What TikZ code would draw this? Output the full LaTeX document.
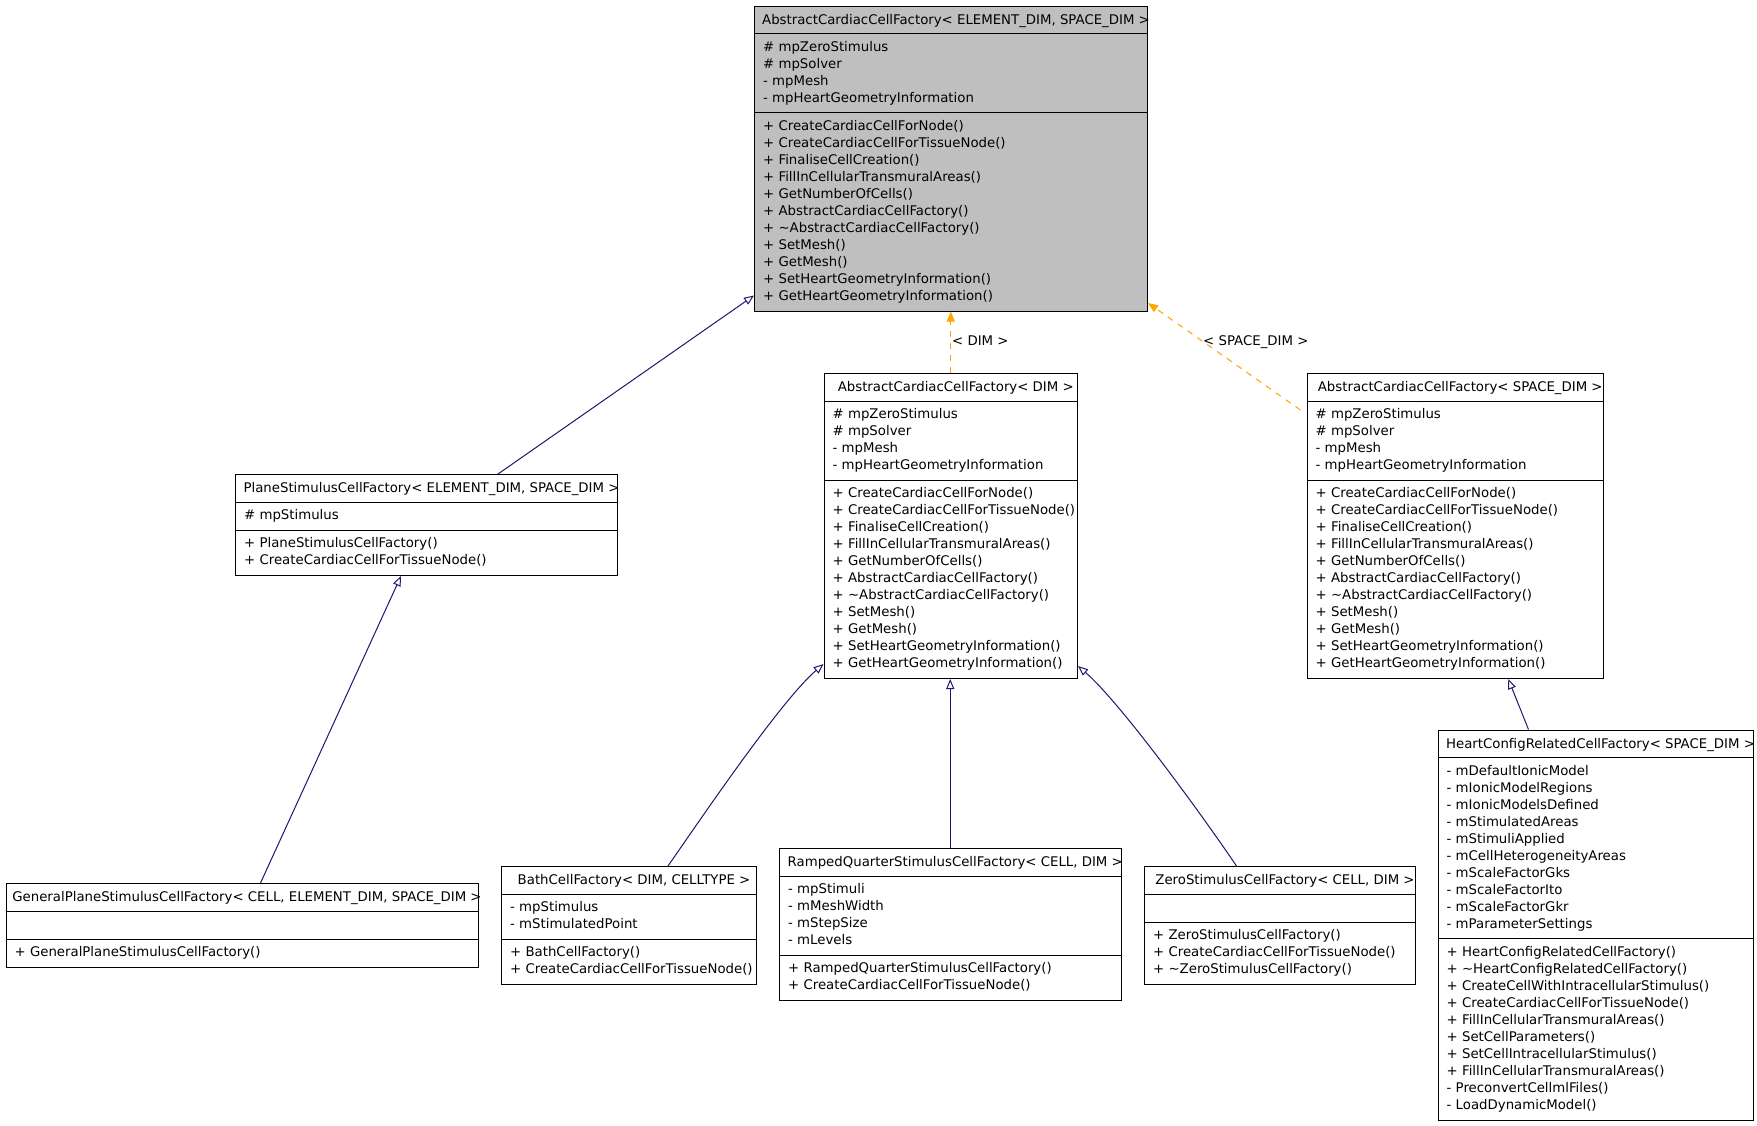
\documentclass[tikz,border=0pt]{standalone}
\usepackage{fontspec}
\setmainfont{DejaVu Sans}
\usetikzlibrary{arrows.meta,calc}
\definecolor{edgeblue}{HTML}{191970}
\definecolor{tmplorange}{HTML}{FFA500}
\definecolor{basegray}{HTML}{BFBFBF}
\newcommand\umlfont{\fontsize{13.3}{17}\selectfont}
\tikzset{
  classframe/.style={draw=black, line width=1pt, inner sep=0pt, anchor=north west},
  sepline/.style={draw=black, line width=1pt},
  ttl/.style={font=\umlfont, inner sep=0pt, anchor=base},
  body/.style={font=\umlfont, inner sep=0pt, anchor=north west, align=left},
  inherit/.style={draw=edgeblue, line width=1pt, -{Triangle[open, length=10pt, width=8pt]}},
  tmpl/.style={draw=tmplorange, line width=1pt, dash pattern=on 6pt off 6pt, -{Triangle[length=10pt, width=8pt, fill=tmplorange]}},
  elabel/.style={font=\umlfont, inner sep=0pt, anchor=base west},
}
% name, x, y, width, #attr lines, #method lines, fill
\newcommand\classbox[7]{%
  \pgfmathsetmacro\hA{17*#5+11}%
  \pgfmathsetmacro\hM{17*#6+11}%
  \pgfmathsetmacro\hT{28+\hA+\hM}%
  \pgfmathsetmacro\yB{-28-\hA}%
  \node[classframe, fill=#7, minimum width=#4pt, minimum height=\hT pt] (#1) at (#2,#3) {};
  \draw[sepline] ([yshift=-28pt]#1.north west) -- ([yshift=-28pt]#1.north east);
  \draw[sepline] ([yshift=\yB pt]#1.north west) -- ([yshift=\yB pt]#1.north east);
}
\newcommand\classtitle[2]{\node[ttl] (#1-title) at ([xshift=5pt,yshift=-18.5pt]#1.north) {#2};}
\newcommand\classattrs[2]{\node[body] (#1-attrs) at ([xshift=9pt,yshift=-33.6pt]#1.north west) {#2};}
% name, #attr lines, text
\newcommand\classmeths[3]{%
  \pgfmathsetmacro\yM{-28-17*#2-11-5.6}%
  \node[body] (#1-meths) at ([xshift=9pt,yshift=\yM pt]#1.north west) {#3};}
\newcommand\attrsAbstract{\strut\# mpZeroStimulus\\\strut\# mpSolver\\\strut- mpMesh\\\strut- mpHeartGeometryInformation}
\newcommand\methsAbstract{\strut+ CreateCardiacCellForNode()\\\strut+ CreateCardiacCellForTissueNode()\\\strut+ FinaliseCellCreation()\\\strut+ FillInCellularTransmuralAreas()\\\strut+ GetNumberOfCells()\\\strut+ AbstractCardiacCellFactory()\\\strut+ \textasciitilde AbstractCardiacCellFactory()\\\strut+ SetMesh()\\\strut+ GetMesh()\\\strut+ SetHeartGeometryInformation()\\\strut+ GetHeartGeometryInformation()}
\begin{document}
\begin{tikzpicture}[x=1pt, y=-1pt]
\useasboundingbox (0,0) rectangle (1757,1125);
\fill[white] (0,0) rectangle (1757,1125);

% boxes
\classbox{A}{754}{5.5}{393}{4}{11}{basegray}
\classtitle{A}{AbstractCardiacCellFactory< ELEMENT\_DIM, SPACE\_DIM >}
\classattrs{A}{\attrsAbstract}
\classmeths{A}{4}{\methsAbstract}

\classbox{B}{823.5}{373}{253.5}{4}{11}{white}
\classtitle{B}{AbstractCardiacCellFactory< DIM >}
\classattrs{B}{\attrsAbstract}
\classmeths{B}{4}{\methsAbstract}

\classbox{C}{1306.5}{373}{296.5}{4}{11}{white}
\classtitle{C}{AbstractCardiacCellFactory< SPACE\_DIM >}
\classattrs{C}{\attrsAbstract}
\classmeths{C}{4}{\methsAbstract}

\classbox{D}{235}{474}{382}{1}{2}{white}
\classtitle{D}{PlaneStimulusCellFactory< ELEMENT\_DIM, SPACE\_DIM >}
\classattrs{D}{\strut\# mpStimulus}
\classmeths{D}{1}{\strut+ PlaneStimulusCellFactory()\\\strut+ CreateCardiacCellForTissueNode()}

\classbox{E}{5.5}{883}{472}{1}{1}{white}
\classtitle{E}{GeneralPlaneStimulusCellFactory< CELL, ELEMENT\_DIM, SPACE\_DIM >}
\classmeths{E}{1}{\strut+ GeneralPlaneStimulusCellFactory()}

\classbox{F}{501}{866}{255}{2}{2}{white}
\classtitle{F}{BathCellFactory< DIM, CELLTYPE >}
\classattrs{F}{\strut- mpStimulus\\\strut- mStimulatedPoint}
\classmeths{F}{2}{\strut+ BathCellFactory()\\\strut+ CreateCardiacCellForTissueNode()}

\classbox{G}{779}{848}{341.5}{4}{2}{white}
\classtitle{G}{RampedQuarterStimulusCellFactory< CELL, DIM >}
\classattrs{G}{\strut- mpStimuli\\\strut- mMeshWidth\\\strut- mStepSize\\\strut- mLevels}
\classmeths{G}{4}{\strut+ RampedQuarterStimulusCellFactory()\\\strut+ CreateCardiacCellForTissueNode()}

\classbox{Z}{1144}{866}{271}{1}{3}{white}
\classtitle{Z}{ZeroStimulusCellFactory< CELL, DIM >}
\classmeths{Z}{1}{\strut+ ZeroStimulusCellFactory()\\\strut+ CreateCardiacCellForTissueNode()\\\strut+ \textasciitilde ZeroStimulusCellFactory()}

\classbox{H}{1437.5}{729.5}{315}{10}{10}{white}
\classtitle{H}{HeartConfigRelatedCellFactory< SPACE\_DIM >}
\classattrs{H}{\strut- mDefaultIonicModel\\\strut- mIonicModelRegions\\\strut- mIonicModelsDefined\\\strut- mStimulatedAreas\\\strut- mStimuliApplied\\\strut- mCellHeterogeneityAreas\\\strut- mScaleFactorGks\\\strut- mScaleFactorIto\\\strut- mScaleFactorGkr\\\strut- mParameterSettings}
\classmeths{H}{10}{\strut+ HeartConfigRelatedCellFactory()\\\strut+ \textasciitilde HeartConfigRelatedCellFactory()\\\strut+ CreateCellWithIntracellularStimulus()\\\strut+ CreateCardiacCellForTissueNode()\\\strut+ FillInCellularTransmuralAreas()\\\strut+ SetCellParameters()\\\strut+ SetCellIntracellularStimulus()\\\strut+ FillInCellularTransmuralAreas()\\\strut- PreconvertCellmlFiles()\\\strut- LoadDynamicModel()}

% inheritance edges
\draw[inherit] ([xshift=71.5pt]D.north) -- ([yshift=16pt]A.south west);
\draw[inherit] ([xshift=18.5pt]E.north) -- ([xshift=-25.5pt]D.south);
\draw[inherit] ([xshift=39pt]F.north) .. controls +(32,-46) and +(-43,37) .. ([yshift=15pt]B.south west);
\draw[inherit] (G.north) -- (G.north |- B.south);
\draw[inherit] ([xshift=-43.5pt]Z.north) .. controls +(-31,-46) and +(43,37) .. ([yshift=13pt]B.south east);
\draw[inherit] ([xshift=-67pt]H.north) -- ([xshift=53pt]C.south);

% template instantiation edges
\draw[tmpl] (B.north) -- (B.north |- A.south);
\node[elabel] (lbl-dim) at (952,345) {< DIM >};
\draw[tmpl] ([xshift=-6pt,yshift=-37pt]C.north west) -- ([yshift=8.5pt]A.south east);
\node[elabel] (lbl-space) at (1203,345) {< SPACE\_DIM >};
\end{tikzpicture}
\end{document}
